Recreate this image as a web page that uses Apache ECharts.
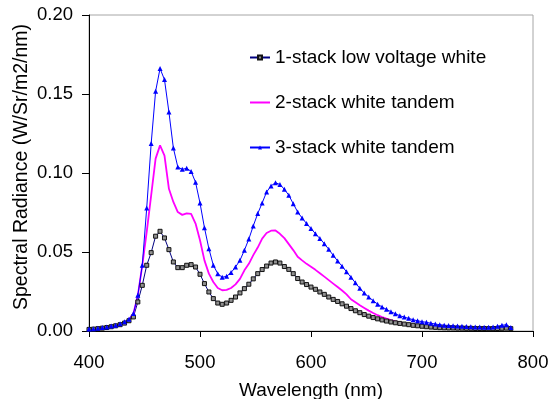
<!DOCTYPE html>
<html><head><meta charset="utf-8">
<script src="https://cdn.jsdelivr.net/npm/echarts@6/dist/echarts.min.js"></script>
<style>html,body{margin:0;padding:0;background:#fff}#c{width:557px;height:399px}</style>
</head><body><div id="c"></div>
<script>
var wavelengths = [400,404,408,412,416,420,424,428,432,436,440,444,448,452,456,460,464,468,472,476,480,484,488,492,496,500,504,508,512,516,520,524,528,532,536,540,544,548,552,556,560,564,568,572,576,580,584,588,592,596,600,604,608,612,616,620,624,628,632,636,640,644,648,652,656,660,664,668,672,676,680,684,688,692,696,700,704,708,712,716,720,724,728,732,736,740,744,748,752,756,760,764,768,772,776,780];

var stack1 = [0.0010,0.0012,0.0015,0.0018,0.0022,0.0027,0.0033,0.0040,0.0050,0.0065,
0.0089,0.0184,0.0289,0.0416,0.0496,0.0600,0.0631,0.0589,0.0515,0.0437,
0.0401,0.0401,0.0416,0.0420,0.0405,0.0359,0.0300,0.0247,0.0205,0.0177,
0.0169,0.0177,0.0194,0.0215,0.0241,0.0268,0.0296,0.0330,0.0363,0.0389,
0.0411,0.0430,0.0437,0.0430,0.0408,0.0390,0.0363,0.0332,0.0310,0.0294,
0.0278,0.0264,0.0247,0.0232,0.0215,0.0200,0.0187,0.0172,0.0157,0.0142,
0.0128,0.0116,0.0104,0.0094,0.0085,0.0077,0.0070,0.0063,0.0057,0.0052,
0.0048,0.0044,0.0040,0.0036,0.0033,0.0030,0.0027,0.0025,0.0023,0.0021,
0.0020,0.0019,0.0019,0.0018,0.0018,0.0017,0.0017,0.0016,0.0016,0.0016,
0.0015,0.0015,0.0016,0.0017,0.0018,0.0015];

var stack2 = [0.0010,0.0013,0.0016,0.0020,0.0024,0.0029,0.0035,0.0043,0.0055,0.0072,
0.0110,0.0226,0.0416,0.0627,0.0859,0.1091,0.1175,0.1110,0.0900,0.0817,
0.0753,0.0735,0.0745,0.0741,0.0680,0.0574,0.0447,0.0363,0.0310,0.0272,
0.0258,0.0260,0.0272,0.0295,0.0330,0.0384,0.0425,0.0480,0.0528,0.0585,
0.0620,0.0635,0.0636,0.0615,0.0588,0.0550,0.0512,0.0470,0.0447,0.0425,
0.0407,0.0387,0.0366,0.0344,0.0322,0.0300,0.0278,0.0256,0.0232,0.0201,
0.0182,0.0163,0.0146,0.0129,0.0114,0.0100,0.0088,0.0078,0.0069,0.0061,
0.0054,0.0047,0.0041,0.0037,0.0033,0.0030,0.0027,0.0025,0.0023,0.0022,
0.0021,0.0020,0.0019,0.0019,0.0018,0.0018,0.0017,0.0017,0.0016,0.0016,
0.0016,0.0017,0.0018,0.0020,0.0021,0.0016];

var stack3 = [0.0012,0.0015,0.0018,0.0022,0.0026,0.0031,0.0037,0.0046,0.0058,0.0075,
0.0110,0.0226,0.0416,0.0779,0.1186,0.1517,0.1661,0.1591,0.1386,0.1158,
0.1038,0.1023,0.1030,0.1010,0.0941,0.0810,0.0654,0.0521,0.0416,0.0363,
0.0340,0.0346,0.0370,0.0405,0.0447,0.0511,0.0582,0.0665,0.0743,0.0810,
0.0880,0.0918,0.0939,0.0927,0.0897,0.0859,0.0806,0.0753,0.0715,0.0680,
0.0648,0.0616,0.0585,0.0553,0.0517,0.0479,0.0443,0.0410,0.0375,0.0340,
0.0305,0.0270,0.0240,0.0215,0.0192,0.0170,0.0152,0.0137,0.0122,0.0109,
0.0097,0.0088,0.0080,0.0071,0.0065,0.0059,0.0055,0.0049,0.0044,0.0040,
0.0037,0.0035,0.0033,0.0031,0.0030,0.0029,0.0027,0.0026,0.0025,0.0024,
0.0024,0.0026,0.0030,0.0036,0.0040,0.0022];

var seriesNames = ['1-stack low voltage white','2-stack white tandem','3-stack white tandem'];
var xTicks = [400,500,600,700,800];
var yTicks = [0,0.05,0.10,0.15,0.20];

function pairs(vals){ return wavelengths.map(function(w,i){ return [w, vals[i]]; }); }

var FONT = 'Liberation Sans, Arial, sans-serif';
var chart = echarts.init(document.getElementById('c'), null, {renderer:'canvas'});
chart.setOption({
  animation:false,
  backgroundColor:'#fff',
  grid:{left:89, top:15, width:444, height:316, containLabel:false, outerBoundsMode:'none',
        show:true, borderColor:'#a6a6a6', borderWidth:1, backgroundColor:'transparent'},
  legend:{
    orient:'vertical', left:244, top:43, itemGap:26, itemWidth:20, itemHeight:5,
    textStyle:{fontFamily:FONT, fontSize:19, color:'#000'},
    data:[
      {name:seriesNames[0]},
      {name:seriesNames[1], itemStyle:{opacity:0}},
      {name:seriesNames[2]}
    ]
  },
  xAxis:{
    type:'value', min:xTicks[0], max:xTicks[xTicks.length-1], interval:100,
    name:'Wavelength (nm)', nameLocation:'middle', nameGap:50, nameMoveOverlap:false,
    nameTextStyle:{fontFamily:FONT, fontSize:19, color:'#000'},
    axisLine:{show:true, onZero:false, lineStyle:{color:'#000', width:1}},
    axisTick:{show:true, inside:false, length:6, lineStyle:{color:'#000'}},
    axisLabel:{fontFamily:FONT, fontSize:18.5, color:'#000', margin:22},
    splitLine:{show:false}
  },
  yAxis:{
    type:'value', min:yTicks[0], max:yTicks[yTicks.length-1], interval:0.05,
    name:'Spectral Radiance (W/Sr/m2/nm)', nameLocation:'middle', nameGap:57, nameMoveOverlap:false,
    nameTextStyle:{fontFamily:FONT, fontSize:19.5, color:'#000', padding:[0,0,0,12]},
    axisLine:{show:true, lineStyle:{color:'#000', width:1}},
    axisTick:{show:true, inside:false, length:7, lineStyle:{color:'#000'}},
    axisLabel:{fontFamily:FONT, fontSize:18.5, color:'#000', margin:16, formatter:function(v){return v.toFixed(2);}},
    splitLine:{show:false}
  },
  series:[
    {name:seriesNames[0], type:'line', data:pairs(stack1), symbol:'rect', symbolSize:4,
     lineStyle:{color:'#000080', width:1}, itemStyle:{color:'#909090', borderColor:'#111', borderWidth:1}},
    {name:seriesNames[1], type:'line', data:pairs(stack2), symbol:'none', showSymbol:false,
     lineStyle:{color:'#ff00ff', width:1.8}, itemStyle:{color:'#ff00ff'}},
    {name:seriesNames[2], type:'line', data:pairs(stack3), symbol:'triangle', symbolSize:5,
     lineStyle:{color:'#0000ff', width:1}, itemStyle:{color:'#0000ff'}}
  ]
});
</script></body></html>
